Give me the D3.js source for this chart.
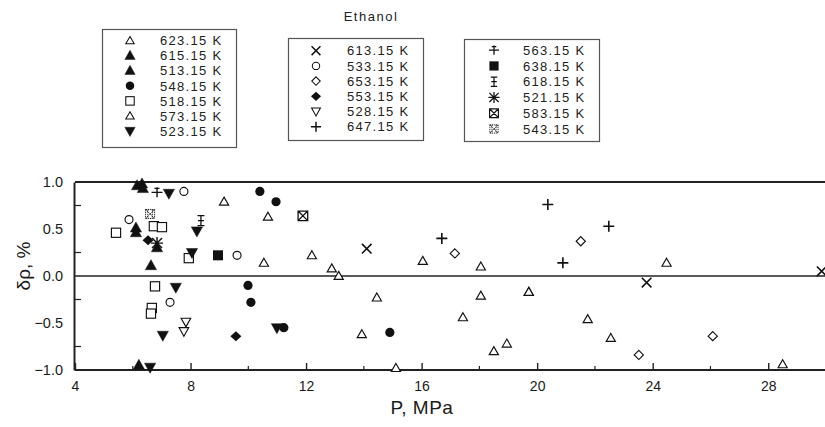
<!DOCTYPE html>
<html>
<head>
<meta charset="utf-8">
<script src="https://cdn.jsdelivr.net/npm/d3@7"></script>
<style>
  html, body { margin: 0; padding: 0; background: #fff; }
  svg { display: block; font-family: "Liberation Sans", Arial, sans-serif; }
</style>
</head>
<body>
<svg id="chart" width="825" height="427"></svg>
<script>
// Ethanol density deviations, δρ (%) versus pressure P (MPa), per isotherm
const p623 = [16.04, 18.05, 18.05, 19.71, 17.43, 18.95, 18.50, 24.48, 21.75, 22.55, 28.50];
const d623 = [0.16, 0.10, -0.21, -0.17, -0.44, -0.72, -0.80, 0.14, -0.46, -0.66, -0.94];
const p615 = [6.15, 6.32, 6.35];
const d615 = [0.96, 0.98, 0.93];
const p513 = [6.11, 6.11, 6.84, 6.63, 6.21];
const d513 = [0.51, 0.46, 0.30, 0.11, -0.95];
const p548 = [10.40, 10.96, 9.99, 10.09, 11.23, 14.90];
const d548 = [0.90, 0.79, -0.10, -0.28, -0.55, -0.60];
const p518 = [5.42, 6.73, 7.01, 7.94, 6.77, 6.66, 6.63];
const d518 = [0.46, 0.53, 0.52, 0.19, -0.11, -0.34, -0.40];
const p573 = [9.16, 10.68, 10.54, 12.20, 12.89, 13.13, 14.45, 13.93, 15.11, 19.71];
const d573 = [0.79, 0.63, 0.14, 0.22, 0.08, 0.0, -0.23, -0.62, -0.98, -0.17];
const p523 = [7.25, 8.22, 8.05, 7.49, 7.04, 10.99, 6.60];
const d523 = [0.88, 0.48, 0.25, -0.12, -0.63, -0.55, -0.97];
const p613 = [14.10, 23.79, 29.85];
const d613 = [0.29, -0.07, 0.05];
const p533 = [5.87, 7.77, 9.61, 7.29];
const d533 = [0.60, 0.90, 0.22, -0.28];
const p653 = [17.15, 21.51, 23.52, 26.08];
const d653 = [0.24, 0.37, -0.84, -0.64];
const p553 = [6.53, 9.57];
const d553 = [0.38, -0.64];
const p528 = [7.84, 7.77];
const d528 = [-0.49, -0.59];
const p647 = [16.70, 20.37, 22.48, 20.89];
const d647 = [0.40, 0.76, 0.53, 0.14];
const p563 = [6.84];
const d563 = [0.89];
const p638 = [8.95];
const d638 = [0.22];
const p618 = [8.36];
const d618 = [0.59];
const p521 = [6.84];
const d521 = [0.35];
const p583 = [11.89];
const d583 = [0.64];
const p543 = [6.60];
const d543 = [0.66];

// Legend columns (isotherm labels)
const legendCol1 = ["623.15 K", "615.15 K", "513.15 K", "548.15 K", "518.15 K", "573.15 K", "523.15 K"];
const legendCol2 = ["613.15 K", "533.15 K", "653.15 K", "553.15 K", "528.15 K", "647.15 K"];
const legendCol3 = ["563.15 K", "638.15 K", "618.15 K", "521.15 K", "583.15 K", "543.15 K"];

const xTicks = [4, 8, 12, 16, 20, 24, 28];
const xMinorTicks = [6, 10, 14, 18, 22, 26];
const yTicks = [1.0, 0.5, 0.0, -0.5, -1.0];
const yMinorTicks = [0.75, 0.25, -0.25, -0.75];

// isotherm label -> data + marker kind
const seriesList = [
  { label: "623.15 K", p: p623, d: d623, kind: "triOpen" },
  { label: "615.15 K", p: p615, d: d615, kind: "triFilled" },
  { label: "513.15 K", p: p513, d: d513, kind: "triFilled" },
  { label: "548.15 K", p: p548, d: d548, kind: "circleFilled" },
  { label: "518.15 K", p: p518, d: d518, kind: "squareOpen" },
  { label: "573.15 K", p: p573, d: d573, kind: "triOpen" },
  { label: "523.15 K", p: p523, d: d523, kind: "triDownFilled" },
  { label: "613.15 K", p: p613, d: d613, kind: "xMark" },
  { label: "533.15 K", p: p533, d: d533, kind: "circleOpen" },
  { label: "653.15 K", p: p653, d: d653, kind: "diamondOpen" },
  { label: "553.15 K", p: p553, d: d553, kind: "diamondFilled" },
  { label: "528.15 K", p: p528, d: d528, kind: "triDownOpen" },
  { label: "647.15 K", p: p647, d: d647, kind: "plus" },
  { label: "563.15 K", p: p563, d: d563, kind: "crossCap" },
  { label: "638.15 K", p: p638, d: d638, kind: "squareFilled" },
  { label: "618.15 K", p: p618, d: d618, kind: "ibeam" },
  { label: "521.15 K", p: p521, d: d521, kind: "asterisk" },
  { label: "583.15 K", p: p583, d: d583, kind: "boxX" },
  { label: "543.15 K", p: p543, d: d543, kind: "hatch" }
];
const kindOf = new Map(seriesList.map(s => [s.label, s.kind]));

const svg = d3.select("#chart");
const ink = "#111";

const x = d3.scaleLinear().domain([4, 30]).range([75, 826]);
const y = d3.scaleLinear().domain([-1, 1]).range([370, 182]);

// Marker drawing: appends the marker for a kind into group g centred at 0,0
function drawMarker(g, kind) {
  const sw = 1.15;
  switch (kind) {
    case "triOpen":
    case "triFilled": {
      const f = kind === "triFilled";
      g.append("path").attr("d", f ? "M0,-6L5.6,4L-5.6,4Z" : "M0,-4.6L4.6,3.4L-4.6,3.4Z")
        .attr("fill", f ? ink : "#fff").attr("stroke", ink).attr("stroke-width", f ? 0.5 : sw);
      break;
    }
    case "triDownFilled":
    case "triDownOpen": {
      const f = kind === "triDownFilled";
      g.append("path").attr("d", f ? "M0,6L5.6,-4L-5.6,-4Z" : "M0,4.8L4.8,-3.8L-4.8,-3.8Z")
        .attr("fill", f ? ink : "#fff").attr("stroke", ink).attr("stroke-width", f ? 0.5 : sw);
      break;
    }
    case "circleFilled":
      g.append("circle").attr("r", 4.6).attr("fill", ink);
      break;
    case "circleOpen":
      g.append("circle").attr("r", 4).attr("fill", "#fff").attr("stroke", ink).attr("stroke-width", sw);
      break;
    case "squareOpen":
      g.append("rect").attr("x", -4.6).attr("y", -4.6).attr("width", 9.2).attr("height", 9.2)
        .attr("fill", "#fff").attr("stroke", ink).attr("stroke-width", sw);
      break;
    case "squareFilled":
      g.append("rect").attr("x", -5).attr("y", -5).attr("width", 10).attr("height", 10).attr("fill", ink);
      break;
    case "diamondOpen":
      g.append("path").attr("d", "M0,-4.6L4.6,0L0,4.6L-4.6,0Z")
        .attr("fill", "#fff").attr("stroke", ink).attr("stroke-width", sw);
      break;
    case "diamondFilled":
      g.append("path").attr("d", "M0,-5L5.5,0L0,5L-5.5,0Z").attr("fill", ink);
      break;
    case "xMark":
      g.append("path").attr("d", "M-4.8,-4.8L4.8,4.8M-4.8,4.8L4.8,-4.8")
        .attr("stroke", ink).attr("stroke-width", 1.6).attr("fill", "none");
      break;
    case "plus":
      g.append("path").attr("d", "M-5.5,0H5.5M0,-5.5V5.5")
        .attr("stroke", ink).attr("stroke-width", 1.6).attr("fill", "none");
      break;
    case "crossCap":
      g.append("path").attr("d", "M-5.5,0H5.5M0,-5V5M-2.5,-4H2.5")
        .attr("stroke", ink).attr("stroke-width", 1.4).attr("fill", "none");
      break;
    case "ibeam":
      g.append("path").attr("d", "M-3.5,-5H3.5M-3.5,5H3.5M0,-5V5M-3,0H3")
        .attr("stroke", ink).attr("stroke-width", 1.3).attr("fill", "none");
      break;
    case "asterisk":
      g.append("path").attr("d", "M-5,-5L5,5M-5,5L5,-5M0,-6V6M-6,0H6")
        .attr("stroke", ink).attr("stroke-width", 1.4).attr("fill", "none");
      break;
    case "boxX":
      g.append("path").attr("d", "M-4.8,-4.8H4.8V4.8H-4.8ZM-4.8,-4.8L4.8,4.8M-4.8,4.8L4.8,-4.8")
        .attr("stroke", ink).attr("stroke-width", 1.3).attr("fill", "#fff");
      break;
    case "hatch":
      g.append("path").attr("d", "M-4.5,-4.5L4.5,4.5M-4.5,4.5L4.5,-4.5M-4.5,-4.5H4.5M-4.5,4.5H4.5M-4.5,-4.5V4.5M4.5,-4.5V4.5M-2.2,-4.5V4.5M2.2,-4.5V4.5")
        .attr("stroke", ink).attr("stroke-width", 0.9).attr("stroke-dasharray", "1.4,0.8").attr("fill", "none");
      break;
  }
}

// Frame: top border, zero line, left and bottom axes
const frame = svg.append("g");
frame.append("line").attr("x1", x(4)).attr("x2", 825).attr("y1", y(1)).attr("y2", y(1))
  .attr("stroke", "#222").attr("stroke-width", 2);
frame.append("line").attr("x1", x(4)).attr("x2", 825).attr("y1", y(0)).attr("y2", y(0))
  .attr("stroke", "#222").attr("stroke-width", 1.6);

// Bottom axis (ticks point up into the plot)
const xAxis = d3.axisBottom(x).tickValues(xTicks).tickSize(-7).tickPadding(11).tickSizeOuter(0).tickFormat(d3.format("d"));
const gx = svg.append("g").attr("transform", `translate(0,${y(-1)})`).call(xAxis);
gx.select(".domain").attr("d", `M${x(4)},0H825`).attr("stroke", "#222").attr("stroke-width", 2);
gx.selectAll(".tick line").attr("stroke", "#222").attr("stroke-width", 1.4);
gx.selectAll(".tick text").attr("font-size", 14).attr("fill", "#1a1a1a").attr("font-family", "Liberation Sans, Arial, sans-serif");
gx.selectAll(".minor").data(xMinorTicks).enter().append("line")
  .attr("x1", d => x(d)).attr("x2", d => x(d)).attr("y1", 0).attr("y2", -4)
  .attr("stroke", "#222").attr("stroke-width", 1.2);

// Left axis (ticks point right into the plot)
const yAxis = d3.axisLeft(y).tickValues(yTicks).tickSize(0).tickPadding(11).tickSizeOuter(0).tickFormat(d3.format(".1f"));
const gy = svg.append("g").attr("transform", `translate(${x(4) - 1},0)`).call(yAxis);
gy.select(".domain").attr("stroke", "#222").attr("stroke-width", 2);
gy.selectAll(".tick text").attr("font-size", 14.5).attr("fill", "#1a1a1a").attr("font-family", "Liberation Sans, Arial, sans-serif");
gy.selectAll(".minor").data(yMinorTicks).enter().append("line")
  .attr("x1", 0).attr("x2", 7).attr("y1", d => y(d)).attr("y2", d => y(d))
  .attr("stroke", "#222").attr("stroke-width", 1.2);

// Axis titles
svg.append("text").attr("x", 422).attr("y", 414).attr("text-anchor", "middle")
  .attr("font-size", 19).attr("letter-spacing", 0.5).attr("fill", "#1a1a1a").text("P, MPa");
svg.append("text").attr("transform", "translate(30,266) rotate(-90)").attr("text-anchor", "middle")
  .attr("font-size", 19).attr("fill", "#1a1a1a").text("δρ, %");

// Data markers
const plot = svg.append("g");
seriesList.forEach(s => {
  s.p.forEach((pv, i) => {
    const g = plot.append("g").attr("transform", `translate(${x(pv)},${y(s.d[i])})`);
    drawMarker(g, s.kind);
  });
});

// Title and legend boxes
svg.append("text").attr("x", 371).attr("y", 21).attr("text-anchor", "middle")
  .attr("font-size", 13).attr("letter-spacing", 1.5).attr("fill", "#222").text("Ethanol");

const legendBoxes = [
  { labels: legendCol1, x0: 102, y0: 29, w: 134, h: 118, row0: 40.7, step: 15.05, sx: 130, tx: 160 },
  { labels: legendCol2, x0: 288, y0: 38, w: 135, h: 102, row0: 50.7, step: 15.2, sx: 316, tx: 347 },
  { labels: legendCol3, x0: 464, y0: 39, w: 135, h: 102, row0: 50.2, step: 15.75, sx: 494, tx: 523 }
];
legendBoxes.forEach(b => {
  const lg = svg.append("g");
  lg.append("rect").attr("x", b.x0 + 0.5).attr("y", b.y0 + 0.5).attr("width", b.w).attr("height", b.h)
    .attr("fill", "#fff").attr("stroke", "#555").attr("stroke-width", 1.2);
  b.labels.forEach((lab, i) => {
    const cy = b.row0 + i * b.step;
    const mg = lg.append("g").attr("transform", `translate(${b.sx},${cy}) scale(0.92)`);
    drawMarker(mg, kindOf.get(lab));
    lg.append("text").attr("x", b.tx).attr("y", cy).attr("dy", "0.36em")
      .attr("font-size", 13).attr("letter-spacing", 1.3).attr("fill", "#222").text(lab);
  });
});
</script>
</body>
</html>
